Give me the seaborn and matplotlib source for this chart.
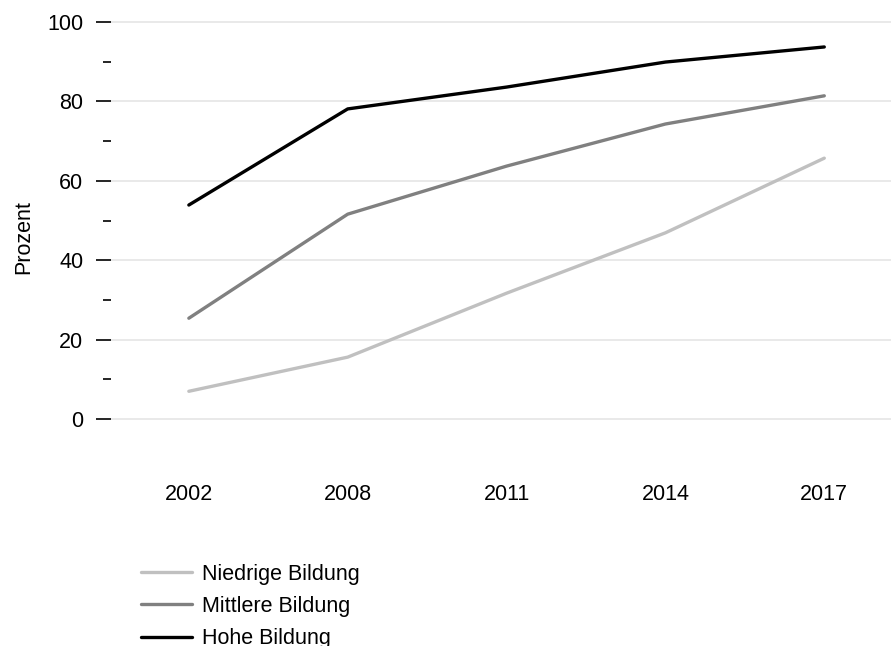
import matplotlib
matplotlib.use("Agg")
import matplotlib.pyplot as plt
import seaborn as sns
import pandas as pd
import numpy as np

years = ["2002", "2008", "2011", "2014", "2017"]
niedrige = [7.0, 15.6, 31.7, 46.9, 65.7]
mittlere = [25.4, 51.6, 63.7, 74.3, 81.4]
hohe = [53.9, 78.1, 83.6, 89.9, 93.7]
series_names = ["Niedrige Bildung", "Mittlere Bildung", "Hohe Bildung"]
colors = ["#c0c0c0", "#808080", "#000000"]

df = pd.DataFrame({
    "Jahr": years * 3,
    "Wert": niedrige + mittlere + hohe,
    "Gruppe": [series_names[0]] * 5 + [series_names[1]] * 5 + [series_names[2]] * 5,
})

sns.set_style("white")
plt.rcParams["font.family"] = ["Liberation Sans", "DejaVu Sans"]
plt.rcParams["text.color"] = "black"
plt.rcParams["axes.labelcolor"] = "black"
plt.rcParams["xtick.color"] = "black"
plt.rcParams["ytick.color"] = "black"

FS = 15.5
W, H = 891, 646
fig = plt.figure(figsize=(W / 100, H / 100), dpi=100)
ax_left, ax_right, ax_top, ax_bot = 111, 891, 14, 460
ax = fig.add_axes([ax_left / W, 1 - ax_bot / H, (ax_right - ax_left) / W, (ax_bot - ax_top) / H])

sns.lineplot(data=df, x="Jahr", y="Wert", hue="Gruppe", hue_order=series_names,
             palette=dict(zip(series_names, colors)), linewidth=2.4, ax=ax,
             sort=False, legend=True)

ax.set_xlim(-0.49, 4.42)
ax.set_ylim(-10.3, 102.0)
ax.set_yticks([0, 20, 40, 60, 80, 100])
ax.set_yticks([10, 30, 50, 70, 90], minor=True)
ax.grid(axis="y", which="major", color="#e3e3e3", linewidth=1.1)
ax.grid(axis="x", visible=False)
for s in ax.spines.values():
    s.set_visible(False)
ax.tick_params(axis="y", which="major", left=True, length=11, width=1.2, color="black", pad=9, labelsize=FS)
ax.tick_params(axis="y", which="minor", left=True, length=6, width=1.2, color="black")
ax.tick_params(axis="x", length=0, pad=17, labelsize=FS)
ax.set_xlabel("")
ax.set_ylabel("Prozent", fontsize=FS, labelpad=9)

handles, labels = ax.get_legend_handles_labels()
ax.get_legend().remove()
fig.legend(handles, labels, loc="upper left", bbox_to_anchor=(130 / W, 1 - 553 / H),
           frameon=False, fontsize=FS, handlelength=2.4, handletextpad=0.45,
           labelspacing=0.52, borderpad=0)

fig.savefig("out.png", dpi=100)
